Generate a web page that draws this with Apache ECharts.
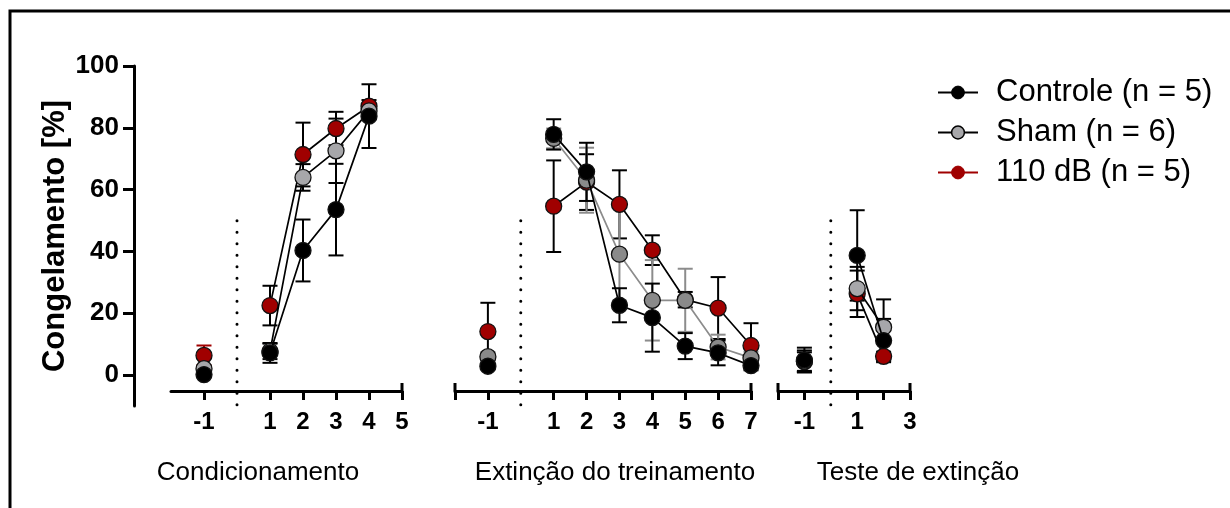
<!DOCTYPE html>
<html>
<head>
<meta charset="utf-8">
<script src="https://cdn.jsdelivr.net/npm/echarts@6/dist/echarts.min.js"></script>
<style>
  html, body { margin: 0; padding: 0; background: #fff; }
  #chart { width: 1230px; height: 508px; }
</style>
</head>
<body>
<div id="chart"></div>
<script>
// Freezing (%) per group: mean and SEM, per session block.
const groupNames = ['Controle (n = 5)', 'Sham (n = 6)', '110 dB (n = 5)'];
const panelTitles = ['Condicionamento', 'Extinção do treinamento', 'Teste de extinção'];

const condX = [-1, 1, 2, 3, 4];
const condControle = [0.3, 7.3, 40.4, 53.6, 83.8];
const condControleSem = [0.6, 3.2, 10.0, 14.8, 10.3];
const condSham = [2.2, 7.8, 64.0, 72.6, 85.5];
const condShamSem = [0.9, 2.5, 4.3, 10.4, 2.0];
const cond110 = [6.5, 22.6, 71.4, 79.8, 87.0];
const cond110Sem = [3.2, 6.4, 10.3, 5.4, 2.0];

const extX = [-1, 1, 2, 3, 4, 5, 6, 7];
const extControle = [3.0, 77.9, 65.8, 22.7, 18.7, 9.5, 7.3, 3.2];
const extControleSem = [0.8, 4.9, 9.4, 5.5, 11.0, 4.2, 4.0, 1.5];
const extSham = [6.1, 76.6, 63.1, 39.2, 24.3, 24.3, 9.2, 5.7];
const extShamSem = [1.5, 3.2, 10.5, 15.0, 13.0, 10.2, 4.0, 2.0];
const ext110 = [14.2, 54.7, 62.5, 55.3, 40.5, 24.5, 21.8, 9.7];
const ext110Sem = [9.3, 14.8, 9.0, 11.0, 4.8, 2.5, 10.0, 7.2];

const testX = [-1, 1, 2];
const testControle = [5.0, 38.8, 11.3];
const testControleSem = [4.0, 14.6, 7.0];
const testSham = [4.6, 28.1, 15.6];
const testShamSem = [3.5, 7.0, 9.0];
const test110 = [4.5, 26.4, 6.2];
const test110Sem = [3.0, 7.5, 1.5];

// Axis ticks and labels
const yTicks = [0, 20, 40, 60, 80, 100];
const condTicks = [-1, 1, 2, 3, 4, 5];
const condLabels = [-1, 1, 2, 3, 4, 5];
const extTicks = [-2, -1, 1, 2, 3, 4, 5, 6, 7];
const extLabels = [-1, 1, 2, 3, 4, 5, 6, 7];
const testTicks = [-2, -1, 1, 2, 3];
const testLabels = [-1, 1, 3];
// Axis ends that carry a tick crossing the axis line
const condEnds = [5];
const extEnds = [-2, 7];
const testEnds = [-2, 3];
// Session 0 separator (dotted)
const separator = [0];

const FONT = "'Liberation Sans', Arial, sans-serif";
const RED = '#a00000';
const GRAY_LIGHT = '#a7a7aa';
const GRAY_DARK = '#8a8a8a';

// Baseline (-1) is drawn but not joined to the session curve
function lineData(xs, ys) {
  const out = [];
  xs.forEach((x, i) => {
    out.push([x, ys[i]]);
    if (x === -1) out.push([0, '-']);
  });
  return out;
}
function errData(xs, ys, es) {
  return xs.map((x, i) => [x, ys[i], es[i]]);
}

function errRender(color, baseColor) {
  return function (params, api) {
    const x = api.value(0), m = api.value(1), e = api.value(2);
    const c = (x === -1 && baseColor) ? baseColor : color;
    const top = api.coord([x, m + e]);
    const bot = api.coord([x, m - e]);
    const hw = 7.5;
    const st = { stroke: c, lineWidth: 2 };
    return {
      type: 'group',
      children: [
        { type: 'line', shape: { x1: top[0], y1: top[1], x2: bot[0], y2: bot[1] }, style: st },
        { type: 'line', shape: { x1: top[0] - hw, y1: top[1], x2: top[0] + hw, y2: top[1] }, style: st },
        { type: 'line', shape: { x1: bot[0] - hw, y1: bot[1], x2: bot[0] + hw, y2: bot[1] }, style: st }
      ]
    };
  };
}

function sepRender(params, api) {
  const a = api.coord([api.value(0), 50]);
  const b = api.coord([api.value(0), -13]);
  return {
    type: 'line',
    shape: { x1: a[0], y1: a[1], x2: b[0], y2: b[1] },
    style: { stroke: '#000', lineWidth: 3, lineDash: [0.1, 11.4], lineCap: 'round' }
  };
}

function endTickRender(params, api) {
  const p = api.coord([api.value(0), -5]);
  return {
    type: 'line',
    shape: { x1: p[0], y1: p[1] - 8, x2: p[0], y2: p[1] },
    style: { stroke: '#000', lineWidth: 3 }
  };
}

const series = [];
function addPanel(idx, xs, groups) {
  groups.forEach((g) => {
    series.push({
      type: 'custom', xAxisIndex: idx, yAxisIndex: idx, z: 1,
      renderItem: errRender(g.err, g.errBase), data: errData(xs, g.y, g.sem),
      silent: true, clip: false
    });
  });
  groups.forEach((g, k) => {
    series.push({
      type: 'line', name: g.name, xAxisIndex: idx, yAxisIndex: idx,
      z: 3 + k, data: lineData(xs, g.y), connectNulls: false,
      symbol: 'circle', symbolSize: 16,
      lineStyle: { color: g.line, width: 1.7 },
      itemStyle: { color: g.fill, borderColor: '#111', borderWidth: 1.3 },
      emphasis: { disabled: true }, silent: true
    });
  });
}

addPanel(1, condX, [
  { name: groupNames[2], y: cond110, sem: cond110Sem, fill: RED, line: '#000', err: '#000', errBase: RED },
  { name: groupNames[1], y: condSham, sem: condShamSem, fill: GRAY_LIGHT, line: '#000', err: '#000' },
  { name: groupNames[0], y: condControle, sem: condControleSem, fill: '#000', line: '#000', err: '#000' }
]);
addPanel(2, extX, [
  { name: groupNames[2], y: ext110, sem: ext110Sem, fill: RED, line: '#000', err: '#000' },
  { name: groupNames[1], y: extSham, sem: extShamSem, fill: GRAY_DARK, line: '#8c8c8c', err: '#8c8c8c' },
  { name: groupNames[0], y: extControle, sem: extControleSem, fill: '#000', line: '#000', err: '#000' }
]);
addPanel(3, testX, [
  { name: groupNames[2], y: test110, sem: test110Sem, fill: RED, line: '#000', err: '#000' },
  { name: groupNames[1], y: testSham, sem: testShamSem, fill: GRAY_LIGHT, line: '#000', err: '#000' },
  { name: groupNames[0], y: testControle, sem: testControleSem, fill: '#000', line: '#000', err: '#000' }
]);
[[1, condEnds], [2, extEnds], [3, testEnds]].forEach(([idx, ends]) => {
  series.push({ type: 'custom', xAxisIndex: idx, yAxisIndex: idx, z: 0, silent: true, clip: false,
    renderItem: endTickRender, data: ends.map(v => [v]) });
});
[1, 2, 3].forEach(idx => {
  series.push({ type: 'custom', xAxisIndex: idx, yAxisIndex: idx, z: 0, silent: true, clip: false,
    renderItem: sepRender, data: separator.map(v => [v]) });
});

const axisLineStyle = { color: '#000', width: 3 };
function panelX(idx, min, max, ticks, labels) {
  return {
    type: 'value', gridIndex: idx, min: min, max: max,
    axisLine: { show: true, onZero: false, lineStyle: axisLineStyle },
    axisTick: { show: true, length: 9, lineStyle: { color: '#000', width: 3 }, customValues: ticks },
    axisLabel: { customValues: labels, margin: 19, color: '#000', fontFamily: FONT, fontWeight: 'bold', fontSize: 24 },
    splitLine: { show: false }
  };
}
function panelY(idx) {
  return { type: 'value', gridIndex: idx, min: -5, max: 100, show: false, splitLine: { show: false } };
}

const titleFont = "26px 'Liberation Sans', Arial, sans-serif";

const option = {
  animation: false,
  backgroundColor: '#fff',
  grid: [
    { left: 134, top: 66, width: 20, height: 340 },
    { left: 171, top: 66, width: 231, height: 325 },
    { left: 455, top: 66, width: 296, height: 325 },
    { left: 778, top: 66, width: 132, height: 325 }
  ],
  xAxis: [
    { type: 'value', gridIndex: 0, show: false, min: 0, max: 1 },
    panelX(1, -2, 5, condTicks, condLabels),
    panelX(2, -2, 7, extTicks, extLabels),
    panelX(3, -2, 3, testTicks, testLabels)
  ],
  yAxis: [
    {
      type: 'value', gridIndex: 0, min: -10, max: 100,
      name: 'Congelamento [%]', nameLocation: 'middle', nameGap: 63, nameRotate: 90,
      nameTextStyle: { color: '#000', fontFamily: FONT, fontWeight: 'bold', fontSize: 31 },
      axisLine: { show: true, lineStyle: axisLineStyle },
      axisTick: { show: true, length: 11, lineStyle: { color: '#000', width: 3 }, customValues: yTicks },
      axisLabel: { customValues: yTicks, margin: 15, color: '#000', fontFamily: FONT, fontWeight: 'bold', fontSize: 26 },
      splitLine: { show: false }
    },
    panelY(1), panelY(2), panelY(3)
  ],
  legend: {
    orient: 'vertical', left: 932, top: 72, itemGap: 9,
    itemWidth: 40, itemHeight: 16, selectedMode: false,
    textStyle: { color: '#000', fontFamily: FONT, fontSize: 31, lineHeight: 31, padding: [0, 0, 0, 13] },
    data: [
      { name: groupNames[0], itemStyle: { color: '#000', borderColor: '#000', borderWidth: 1 }, lineStyle: { color: '#000', width: 2 } },
      { name: groupNames[1], itemStyle: { color: GRAY_LIGHT, borderColor: '#000', borderWidth: 1.5 }, lineStyle: { color: '#000', width: 2 } },
      { name: groupNames[2], itemStyle: { color: RED, borderColor: RED, borderWidth: 1 }, lineStyle: { color: RED, width: 2 } }
    ]
  },
  graphic: [
    { type: 'rect', shape: { x: 10, y: 11, width: 1250, height: 520 }, style: { fill: 'none', stroke: '#000', lineWidth: 3 }, silent: true },
    { type: 'text', x: 258, y: 473, style: { text: panelTitles[0], fill: '#000', font: titleFont, textAlign: 'center', textVerticalAlign: 'middle' } },
    { type: 'text', x: 615, y: 473, style: { text: panelTitles[1], fill: '#000', font: titleFont, textAlign: 'center', textVerticalAlign: 'middle' } },
    { type: 'text', x: 918, y: 473, style: { text: panelTitles[2], fill: '#000', font: titleFont, textAlign: 'center', textVerticalAlign: 'middle' } }
  ],
  series: series
};

const chart = echarts.init(document.getElementById('chart'), null, { renderer: 'canvas' });
chart.setOption(option);
</script>
</body>
</html>
